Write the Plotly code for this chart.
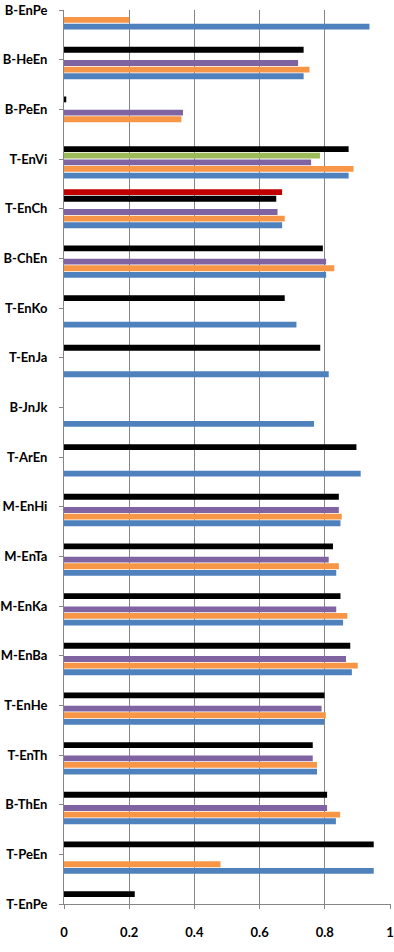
import plotly.graph_objects as go

categories = ["T-EnPe", "T-PeEn", "B-ThEn", "T-EnTh", "T-EnHe", "M-EnBa", "M-EnKa",
              "M-EnTa", "M-EnHi", "T-ArEn", "B-JnJk", "T-EnJa", "T-EnKo", "B-ChEn",
              "T-EnCh", "T-EnVi", "B-PeEn", "B-HeEn", "B-EnPe"]

blue   = [None, 0.950, 0.834, 0.776, 0.799, 0.883, 0.856, 0.835, 0.848, 0.910,
          0.767, 0.812, 0.713, 0.804, 0.669, 0.873, None, 0.735, 0.937]
orange = [None, 0.480, 0.847, 0.776, 0.803, 0.901, 0.869, 0.843, 0.852, None,
          None, None, None, 0.829, 0.677, 0.888, 0.360, 0.753, 0.200]
purple = [None, None, 0.807, 0.763, 0.790, 0.865, 0.835, 0.812, 0.843, None,
          None, None, None, 0.804, 0.655, 0.758, 0.365, 0.718, None]
green  = [None, None, None, None, None, None, None, None, None, None,
          None, None, None, None, None, 0.785, None, None, None]
black  = [0.217, 0.950, 0.807, 0.763, 0.799, 0.878, 0.848, 0.825, 0.843, 0.897,
          None, 0.786, 0.677, 0.794, 0.651, 0.873, 0.007, 0.735, None]
red    = [None, None, None, None, None, None, None, None, None, None,
          None, None, None, None, 0.669, None, None, None, None]

x_ticks = [0, 0.2, 0.4, 0.6, 0.8, 1]
x_tick_labels = ["0", "0.2", "0.4", "0.6", "0.8", "1"]

series = [
    ("blue", blue, "#4F81BD"),
    ("orange", orange, "#F79646"),
    ("purple", purple, "#8064A2"),
    ("green", green, "#9BBB59"),
    ("black", black, "#000000"),
    ("red", red, "#C00000"),
]

fig = go.Figure()
for name, vals, col in series:
    fig.add_trace(go.Bar(
        y=categories, x=vals, name=name, orientation="h",
        marker=dict(color=col, line=dict(width=0)),
    ))

fig.update_layout(
    width=394, height=952,
    margin=dict(l=64, r=3, t=10, b=48),
    barmode="group", bargap=0.2, bargroupgap=0.12,
    showlegend=False,
    plot_bgcolor="white", paper_bgcolor="white",
    font=dict(family="Lato, Open Sans, sans-serif", size=12, color="black"),
)
fig.update_xaxes(
    range=[0, 1.003], tickvals=x_ticks, ticktext=x_tick_labels,
    showgrid=True, gridcolor="#868686", gridwidth=1,
    showline=True, linecolor="#868686", linewidth=1,
    ticks="outside", ticklen=4, tickcolor="#868686",
    ticklabelstandoff=12, automargin=False,
    tickfont=dict(size=13, weight="bold"), zeroline=False,
)
fig.update_yaxes(
    type="category", categoryorder="array", categoryarray=categories,
    range=[0, 18],
    showgrid=False,
    showline=True, linecolor="#868686", linewidth=1,
    ticks="outside", ticklen=4, tickcolor="#868686",
    ticklabelstandoff=9, automargin=False,
    tickfont=dict(size=13, weight="bold"), zeroline=False,
)

fig.write_html("out.html")
